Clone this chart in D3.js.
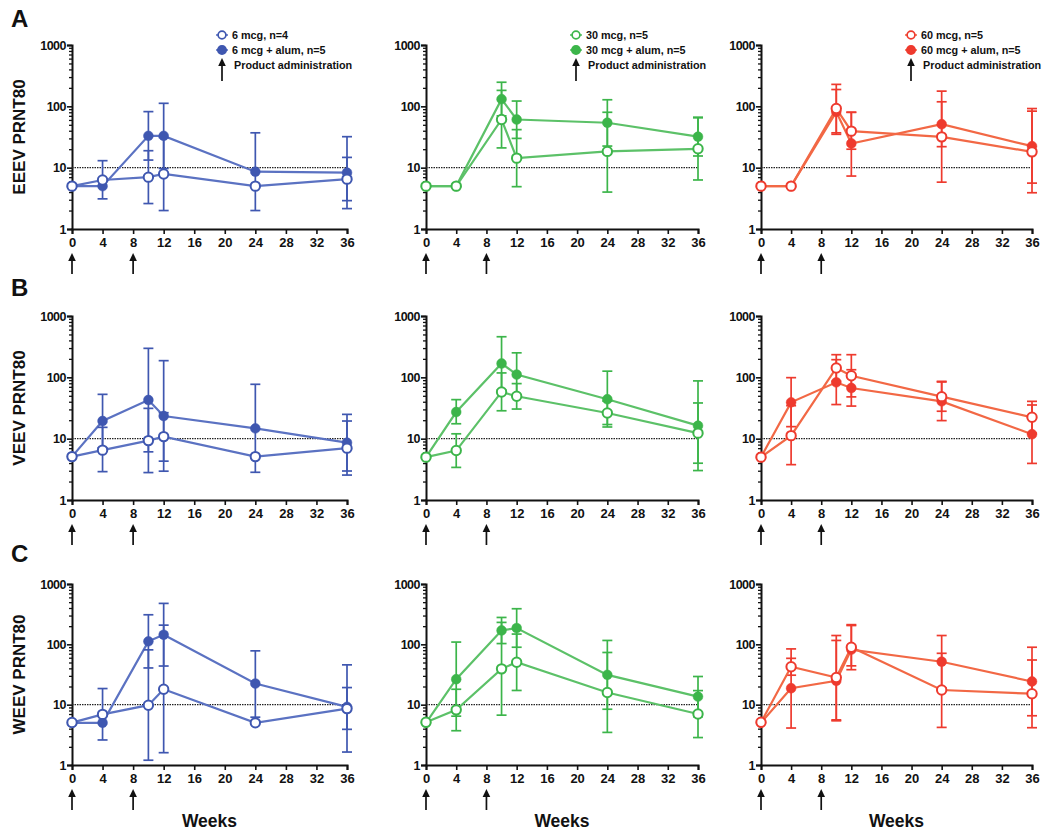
<!DOCTYPE html>
<html><head><meta charset="utf-8">
<script src="https://cdn.jsdelivr.net/npm/d3@7"></script>
<style>
body{margin:0;background:#fff}
text{font-family:"Liberation Sans",Arial,Helvetica,sans-serif;font-weight:bold;fill:#111}
</style>
</head><body>
<svg id="chart" width="1050" height="832"></svg>
<script>
// ---------------- DATA ----------------
const weeks = [0, 4, 10, 12, 24, 36];
const xTicks = [0, 4, 8, 12, 16, 20, 24, 28, 32, 36];
const yTicks = [1, 10, 100, 1000];
const adminWeeks = [0, 8];
const lodValue = 10;
const rowLetters = ["A", "B", "C"];
const yTitles = ["EEEV PRNT80", "VEEV PRNT80", "WEEV PRNT80"];
const xTitle = "Weeks";
const plainLabels = ["6 mcg, n=4", "30 mcg, n=5", "60 mcg, n=5"];
const alumLabels = ["6 mcg + alum, n=5", "30 mcg + alum, n=5", "60 mcg + alum, n=5"];
const adminLabel = "Product administration";

// series order in each virus array: [6, 6+alum, 30, 30+alum, 60, 60+alum]
const eeevMean = [
  [5, 6.3, 7.0, 7.9, 5, 6.5],
  [5, 5, 33, 33, 8.6, 8.3],
  [5, 5, 61, 14.3, 18.4, 20.3],
  [5, 5, 131, 61, 54, 32],
  [5, 5, 92, 39.4, 31.8, 18.1],
  [5, 5, 81.4, 24.8, 51.2, 22.4]
];
const eeevLow = [
  [null, 3.1, 2.6, 2.0, null, 2.9],
  [null, null, 13.3, 9.7, 2.0, 2.15],
  [null, null, 21, 4.9, 4.0, 6.3],
  [null, null, 70, 30, 22.5, 15.5],
  [null, null, 37, 20, 5.8, 3.9],
  [null, null, 35, 7.3, 22, 5.6]
];
const eeevHigh = [
  [null, 13, 18.9, 31, null, 14.7],
  [null, null, 82, 112, 37, 32],
  [null, null, 182, 41.7, 80, 65],
  [null, null, 247, 122, 128, 66.5],
  [null, null, 228, 80, 177, 83.5],
  [null, null, 188, 80, 118.6, 92]
];
const veevMean = [
  [5.1, 6.5, 9.3, 10.8, 5.1, 7.0],
  [5.1, 19.4, 42.7, 23.4, 14.7, 8.6],
  [5, 6.4, 57.8, 49.1, 26.2, 12.3],
  [5, 27.2, 168, 111, 43.9, 16.3],
  [5, 11.2, 142, 106, 48.4, 22.3],
  [5, 39.1, 82.9, 67, 40.6, 11.8]
];
const veevLow = [
  [null, 2.9, 2.8, 4.3, null, 2.55],
  [null, 7.1, 6.1, 2.95, 2.83, 2.97],
  [null, 3.4, 28.5, 30.4, 17, 3.98],
  [null, 17.5, 62, 49, 15.5, 3.02],
  [null, 3.77, 86, 48, 28, 12.3],
  [null, 15.7, 36, 34, 19.7, 3.95]
];
const veevHigh = [
  [null, 15.3, 31.2, 26.5, null, 19.4],
  [null, 52.8, 297, 187, 77, 24.9],
  [null, 12, 118, 79, 41, 38.2],
  [null, 43.3, 459, 251, 126, 87.5],
  [null, 34.5, 234, 234, 86, 40.6],
  [null, 98.8, 194, 133, 84, 35.4]
];
const weevMean = [
  [5.05, 6.9, 9.8, 18, 5, 8.6],
  [5, 5, 112, 144, 22.4, 9.2],
  [5.1, 8.2, 39.2, 50.6, 15.9, 7.0],
  [5, 26.4, 170, 186, 31.2, 13.6],
  [5.1, 42.5, 28.2, 89.5, 17.5, 15.2],
  [5, 18.7, 24.8, 81.8, 51.5, 24.2]
];
const weevLow = [
  [null, 2.6, 1.2, 1.6, null, 3.9],
  [null, null, 40.6, 43.7, 6.2, 1.64],
  [null, 3.7, 6.7, 17.2, 3.47, 2.85],
  [null, 6.45, 103, 89.5, 8.4, 6.3],
  [null, 30.8, 5.6, 38, 4.2, 4.15],
  [null, 4.1, 5.4, 44, 19, 6.55]
];
const weevHigh = [
  [null, 18.5, 81, 208, null, 19.2],
  [null, null, 309, 477, 78, 45.7],
  [null, 18, 231, 148, 73.3, 17.1],
  [null, 109, 279, 389, 116, 29.3],
  [null, 58.6, 140, 212, 71, 55],
  [null, 84, 116, 205, 140, 89.5]
];

// ---------------- STYLE / LAYOUT ----------------
const markerColors = ["#3f57b0", "#3cb54a", "#ee3a2e"];
const lineColors = ["#5b72c2", "#5cc168", "#f26845"];
const colLeft = [72, 426, 761];
const colRight = [347, 698, 1032];
const rowTop = [45, 316, 584];
const rowBottom = [229, 500, 765];

const means = [eeevMean, veevMean, weevMean];
const lows = [eeevLow, veevLow, weevLow];
const highs = [eeevHigh, veevHigh, weevHigh];

const svg = d3.select("#chart");

function arrow(g, x, tip, bottom) {
  g.append("line").attr("x1", x).attr("x2", x).attr("y1", tip + 5).attr("y2", bottom)
    .attr("stroke", "#111").attr("stroke-width", 1.7);
  g.append("path").attr("d", `M${x},${tip} L${x - 3.8},${tip + 8} L${x + 3.8},${tip + 8} Z`)
    .attr("fill", "#111");
}

for (let r = 0; r < 3; r++) {
  svg.append("text").attr("x", 11).attr("y", [27, 296, 562][r])
    .attr("font-size", 24).text(rowLetters[r]);
  const cy = (rowTop[r] + rowBottom[r]) / 2;
  svg.append("text").attr("transform", `translate(25,${cy}) rotate(-90)`)
    .attr("text-anchor", "middle").attr("font-size", 17).text(yTitles[r]);

  for (let c = 0; c < 3; c++) {
    const L = colLeft[c], R = colRight[c], T = rowTop[r], B = rowBottom[r];
    const x = d3.scaleLinear().domain([0, 36]).range([L, R]);
    const y = d3.scaleLog().domain([1, 1000]).range([B, T]);
    const g = svg.append("g");

    const minor = [];
    [1, 10, 100].forEach(d => { for (let k = 2; k <= 9; k++) minor.push(d * k); });
    const gm = g.append("g").attr("transform", `translate(${L},0)`)
      .call(d3.axisLeft(y).tickValues(minor).tickSize(3).tickFormat(""));
    gm.select(".domain").remove();
    gm.selectAll("line").attr("stroke", "#111").attr("stroke-width", 1.3);

    const gy = g.append("g").attr("transform", `translate(${L},0)`)
      .call(d3.axisLeft(y).tickValues(yTicks).tickSize(5).tickPadding(1).tickFormat(d3.format("d")));
    gy.select(".domain").attr("stroke", "#111").attr("stroke-width", 2);
    gy.selectAll("line").attr("stroke", "#111").attr("stroke-width", 1.6);
    gy.selectAll("text").attr("font-size", 12.5).attr("font-family", "Liberation Sans, Arial, sans-serif")
      .attr("font-weight", "bold").attr("fill", "#111").attr("letter-spacing", -0.5);

    const gx = g.append("g").attr("transform", `translate(0,${B})`)
      .call(d3.axisBottom(x).tickValues(xTicks).tickSize(5).tickPadding(4));
    gx.select(".domain").attr("stroke", "#111").attr("stroke-width", 2);
    gx.selectAll("line").attr("stroke", "#111").attr("stroke-width", 1.6);
    gx.selectAll("text").attr("font-size", 13).attr("font-family", "Liberation Sans, Arial, sans-serif")
      .attr("font-weight", "bold").attr("fill", "#111");

    g.append("line").attr("x1", x(0)).attr("x2", x(36)).attr("y1", y(lodValue)).attr("y2", y(lodValue))
      .attr("stroke", "#222").attr("stroke-width", 1.2).attr("stroke-dasharray", "1.5,1");

    adminWeeks.forEach(w => arrow(g, x(w), B + 24, B + 45));

    const order = [1, 0];
    order.forEach(s => {
      const idx = c * 2 + s;
      const m = means[r][idx], lo = lows[r][idx], hi = highs[r][idx];
      const pts = weeks.map((w, i) => ({ w, v: m[i], lo: lo[i], hi: hi[i] }));
      pts.filter(p => p.lo != null && p.hi != null).forEach(p => {
        const eg = g.append("g").attr("stroke", markerColors[c]).attr("stroke-width", 1.7);
        eg.append("line").attr("x1", x(p.w)).attr("x2", x(p.w)).attr("y1", y(p.lo)).attr("y2", y(p.hi));
        eg.append("line").attr("x1", x(p.w) - 5).attr("x2", x(p.w) + 5).attr("y1", y(p.lo)).attr("y2", y(p.lo));
        eg.append("line").attr("x1", x(p.w) - 5).attr("x2", x(p.w) + 5).attr("y1", y(p.hi)).attr("y2", y(p.hi));
      });
      g.append("path").datum(pts)
        .attr("d", d3.line().x(p => x(p.w)).y(p => y(p.v)))
        .attr("fill", "none").attr("stroke", lineColors[c]).attr("stroke-width", 2.2);
    });
    order.forEach(s => {
      const idx = c * 2 + s;
      const m = means[r][idx];
      g.selectAll(null).data(weeks.map((w, i) => ({ w, v: m[i] }))).enter().append("circle")
        .attr("cx", p => x(p.w)).attr("cy", p => y(p.v))
        .attr("r", s === 0 ? 4.7 : 4.9)
        .attr("fill", s === 0 ? "#fff" : markerColors[c])
        .attr("stroke", markerColors[c]).attr("stroke-width", s === 0 ? 2 : 0.5);
    });

    if (r === 0) {
      const lx = L + 150;
      [[plainLabels[c], 35, true], [alumLabels[c], 50, false]].forEach(([lab, ly, open]) => {
        g.append("line").attr("x1", lx - 6).attr("x2", lx + 6).attr("y1", ly).attr("y2", ly)
          .attr("stroke", lineColors[c]).attr("stroke-width", 1.6);
        g.append("circle").attr("cx", lx).attr("cy", ly).attr("r", open ? 3.9 : 4.2)
          .attr("fill", open ? "#fff" : markerColors[c]).attr("stroke", markerColors[c]).attr("stroke-width", 1.7);
        g.append("text").attr("x", lx + 10).attr("y", ly + 4).attr("font-size", 10.8).text(lab);
      });
      arrow(g, lx, 58, 81);
      g.append("text").attr("x", lx + 12).attr("y", 69).attr("font-size", 10.8).text(adminLabel);
    }

    if (r === 2) {
      g.append("text").attr("x", (L + R) / 2).attr("y", 827).attr("text-anchor", "middle")
        .attr("font-size", 17.5).text(xTitle);
    }
  }
}
</script>
</body></html>
